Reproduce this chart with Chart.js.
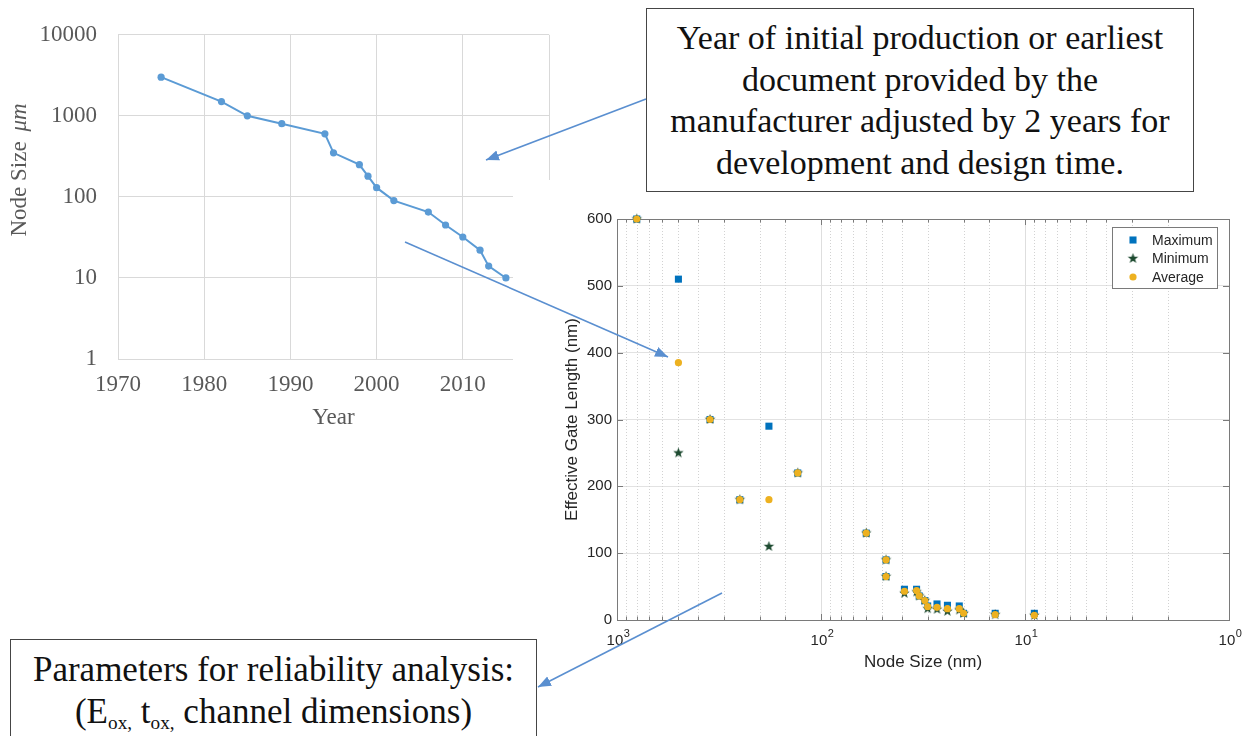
<!DOCTYPE html>
<html>
<head>
<meta charset="utf-8">
<script src="https://cdn.jsdelivr.net/npm/chart.js@4.4.1/dist/chart.umd.min.js"></script>
<style>
  html, body { margin: 0; padding: 0; background: #fff; }
  body { position: relative; width: 1247px; height: 736px; overflow: hidden; }
  #leftChart { position: absolute; left: 0; top: 0; }
  #rightChart { position: absolute; left: 513px; top: 180px; background: #fff; }
  .note {
    position: absolute; box-sizing: border-box; background: #fff;
    border: 1.5px solid #454545; color: #111; text-align: center; white-space: nowrap;
    font-family: "Liberation Serif", "Times New Roman", serif;
  }
  #noteYear { left: 646px; top: 8px; width: 548px; height: 184px; font-size: 34px; line-height: 41.7px; padding-top: 8px; }
  #noteParams { left: 10px; top: 639px; width: 527px; height: 130px; font-size: 35px; line-height: 42px; padding-top: 9px; }
  #noteParams sub { font-size: 55%; vertical-align: -0.3em; line-height: 0; }
  #arrows { position: absolute; left: 0; top: 0; }
</style>
</head>
<body>
<canvas id="leftChart" width="600" height="440"></canvas>
<canvas id="rightChart" width="734" height="500"></canvas>

<div class="note" id="noteYear">Year of initial production or earliest<br>document provided by the<br>manufacturer adjusted by 2 years for<br>development and design time.</div>
<div class="note" id="noteParams">Parameters for reliability analysis:<br>(E<sub>ox,</sub> t<sub>ox,</sub> channel dimensions)</div>

<svg id="arrows" width="1247" height="736">
  <defs>
    <marker id="head" viewBox="0 0 10 10" refX="10" refY="5" markerWidth="13" markerHeight="13"
            markerUnits="userSpaceOnUse" orient="auto">
      <path d="M0,1 L10,5 L0,9 z" fill="#5a8fd0"/>
    </marker>
  </defs>
  <line x1="646" y1="99" x2="486" y2="160" stroke="#5a8fd0" stroke-width="1.6" marker-end="url(#head)"/>
  <line x1="405" y1="242" x2="668" y2="357" stroke="#5a8fd0" stroke-width="1.6" marker-end="url(#head)"/>
  <line x1="722" y1="593" x2="538" y2="687" stroke="#5a8fd0" stroke-width="1.6" marker-end="url(#head)"/>
</svg>

<script>
// ---- Node size by year ----
const years      = [1975, 1982, 1985, 1989, 1994, 1995, 1998, 1999, 2000, 2002, 2006, 2008, 2010, 2012, 2013, 2015];
const nodeSizeUm = [3000, 1500, 1000,  800,  600,  350,  250,  180,  130,   90,   65,   45,   32,   22,   14,   10];
const yearTicks  = [1970, 1980, 1990, 2000, 2010, 2020];
const sizeTicks  = [1, 10, 100, 1000, 10000];

// ---- Effective gate length by node size ----
const nodeSizeNm = [800, 500, 350, 250, 180, 130,  60, 48, 48, 39, 34, 33, 31, 30, 27, 24, 21, 20, 14,  9];
const gateMax    = [600, 510, 300, 180, 290, 220, 130, 90, 65, 46, 46, 36, 29, 21, 24, 22, 21, 10, 10, 10];
const gateMin    = [600, 250, 300, 180, 110, 220, 130, 90, 65, 40, 42, 36, 29, 17, 16, 13, 15, 10,  8,  7];
const gateAvg    = [600, 385, 300, 180, 180, 220, 130, 90, 65, 43, 44, 36, 29, 20, 19, 17, 17, 10,  8,  7];
const decadeExponents = [3, 2, 1, 0];
const legendLabels = ['Maximum', 'Minimum', 'Average'];

const SERIF = '"Liberation Serif", "Times New Roman", serif';
const SANS  = '"Liberation Sans", Arial, "DejaVu Sans", sans-serif';

// ---------------- left chart ----------------
const leftTitles = {
  id: 'leftTitles',
  afterDraw(chart) {
    const { ctx, chartArea: a } = chart;
    ctx.save();
    ctx.fillStyle = '#595959';
    ctx.textBaseline = 'middle';
    ctx.textAlign = 'center';
    ctx.font = '23px ' + SERIF;
    ctx.fillText('Year', (a.left + a.right) / 2, 418);

    // rotated y title: "Node Size" upright + "μm" italic
    const partA = 'Node Size ', partB = 'μm';
    ctx.font = '23px ' + SERIF;
    const wA = ctx.measureText(partA).width + 4;
    ctx.font = 'italic 23px ' + SERIF;
    const wB = ctx.measureText(partB).width;
    ctx.translate(20, 170);
    ctx.rotate(-Math.PI / 2);
    ctx.textAlign = 'left';
    const start = -(wA + wB) / 2;
    ctx.font = '23px ' + SERIF;
    ctx.fillText(partA, start, 0);
    ctx.font = 'italic 23px ' + SERIF;
    ctx.fillText(partB, start + wA, 0);
    ctx.restore();
  }
};

new Chart(document.getElementById('leftChart'), {
  type: 'line',
  data: {
    datasets: [{
      data: years.map((y, i) => ({ x: y, y: nodeSizeUm[i] })),
      borderColor: '#5b9bd5',
      backgroundColor: '#5b9bd5',
      borderWidth: 2,
      pointRadius: 3.6,
      pointHoverRadius: 3.6,
      pointBorderWidth: 0,
      tension: 0,
      clip: false
    }]
  },
  options: {
    responsive: false,
    animation: false,
    events: [],
    layout: { padding: { top: 21, right: 51, left: 0, bottom: 0 } },
    plugins: { legend: { display: false }, tooltip: { enabled: false } },
    scales: {
      x: {
        type: 'linear', min: yearTicks[0], max: yearTicks[yearTicks.length - 1],
        afterBuildTicks: s => { s.ticks = yearTicks.map(v => ({ value: v })); },
        ticks: { color: '#595959', font: { family: SERIF, size: 23 }, padding: 12, maxRotation: 0, callback: v => String(v) },
        grid: { color: '#d9d9d9', lineWidth: 1, drawTicks: false },
        border: { color: '#d9d9d9' },
        afterFit: s => { s.height = 81; }
      },
      y: {
        type: 'logarithmic', min: sizeTicks[0], max: sizeTicks[sizeTicks.length - 1],
        afterBuildTicks: s => { s.ticks = sizeTicks.map(v => ({ value: v })); },
        ticks: { color: '#595959', font: { family: SERIF, size: 23 }, padding: 21, callback: v => String(v) },
        grid: { color: '#d9d9d9', lineWidth: 1, drawTicks: false },
        border: { color: '#d9d9d9' },
        afterFit: s => { s.width = 118; }
      }
    }
  },
  plugins: [leftTitles]
});

// ---------------- right chart ----------------
function pentagram(outerR, color) {
  const size = Math.ceil(outerR * 2 + 2);
  const c = document.createElement('canvas');
  c.width = size; c.height = size;
  const g = c.getContext('2d');
  const cx = size / 2, cy = size / 2, innerR = outerR * 0.42;
  g.beginPath();
  for (let k = 0; k < 10; k++) {
    const r = k % 2 ? innerR : outerR;
    const ang = -Math.PI / 2 + k * Math.PI / 5;
    g.lineTo(cx + r * Math.cos(ang), cy + r * Math.sin(ang));
  }
  g.closePath();
  g.fillStyle = color;
  g.fill();
  return c;
}
const starMark = pentagram(5.5, '#1d4a30');
const pts = vals => nodeSizeNm.map((n, i) => ({ x: n, y: vals[i] }));
const isDecade = v => Math.abs(Math.log10(v) - Math.round(Math.log10(v))) < 1e-9;

const frame = {
  id: 'frame',
  beforeDatasetsDraw(chart) {
    const { ctx, chartArea: a, scales: { x, y } } = chart;
    ctx.save();
    // vertical grid: decades solid, intermediate values dotted
    x.ticks.forEach(t => {
      const px = Math.round(x.getPixelForValue(t.value)) + 0.5;
      if (px <= a.left + 1 || px >= a.right - 1) return;
      ctx.beginPath();
      if (isDecade(t.value)) { ctx.setLineDash([]); ctx.strokeStyle = '#dedede'; }
      else { ctx.setLineDash([1, 2]); ctx.strokeStyle = '#d2d2d2'; }
      ctx.lineWidth = 1;
      ctx.moveTo(px, a.top); ctx.lineTo(px, a.bottom);
      ctx.stroke();
    });
    ctx.setLineDash([]);
    // axes box
    ctx.strokeStyle = '#7a7a7a';
    ctx.lineWidth = 1;
    ctx.strokeRect(Math.round(a.left) + 0.5, Math.round(a.top) + 0.5,
                   Math.round(a.right - a.left), Math.round(a.bottom - a.top));
    // inward tick marks on all four sides
    ctx.beginPath();
    x.ticks.forEach(t => {
      const px = Math.round(x.getPixelForValue(t.value)) + 0.5;
      const len = isDecade(t.value) ? 6 : 3.5;
      ctx.moveTo(px, a.bottom); ctx.lineTo(px, a.bottom - len);
      ctx.moveTo(px, a.top); ctx.lineTo(px, a.top + len);
    });
    y.ticks.forEach(t => {
      const py = Math.round(y.getPixelForValue(t.value)) + 0.5;
      ctx.moveTo(a.left, py); ctx.lineTo(a.left + 6, py);
      ctx.moveTo(a.right, py); ctx.lineTo(a.right - 6, py);
    });
    ctx.stroke();
    ctx.restore();
  },
  afterDraw(chart) {
    const { ctx, chartArea: a, scales: { x } } = chart;
    ctx.save();
    ctx.fillStyle = '#262626';
    ctx.textBaseline = 'alphabetic';
    // decade labels on the x axis, written as 10 with a raised exponent
    decadeExponents.forEach(e => {
      const px = x.getPixelForValue(Math.pow(10, e));
      ctx.font = '15px ' + SANS;
      const wBase = ctx.measureText('10').width;
      ctx.font = '11px ' + SANS;
      const wExp = ctx.measureText(String(e)).width;
      const left = px - (wBase + wExp) / 2 + 1;
      ctx.textAlign = 'left';
      ctx.font = '15px ' + SANS;
      ctx.fillText('10', left, a.bottom + 25);
      ctx.font = '11px ' + SANS;
      ctx.fillText(String(e), left + wBase + 0.5, a.bottom + 17);
    });

    // axis titles
    ctx.font = '17px ' + SANS;
    ctx.textAlign = 'center';
    ctx.textBaseline = 'middle';
    ctx.fillText('Node Size (nm)', (a.left + a.right) / 2, 482);
    ctx.translate(59, (a.top + a.bottom) / 2);
    ctx.rotate(-Math.PI / 2);
    ctx.fillText('Effective Gate Length (nm)', 0, 0);
    ctx.restore();

    // legend box in the upper-right corner
    const ds = chart.data.datasets;
    const byLabel = l => ds.find(d => d.label === l);
    const bw = 105, bh = 61;
    const bx = Math.round(a.right - 12 - bw), by = Math.round(a.top + 8);
    ctx.save();
    ctx.fillStyle = '#fff';
    ctx.fillRect(bx, by, bw, bh);
    ctx.strokeStyle = '#7a7a7a';
    ctx.lineWidth = 1;
    ctx.strokeRect(bx + 0.5, by + 0.5, bw, bh);
    ctx.font = '14px ' + SANS;
    ctx.textBaseline = 'middle';
    ctx.textAlign = 'left';
    legendLabels.forEach((lab, i) => {
      const d = byLabel(lab);
      const cy = by + 13 + i * 18.5;
      const mx = bx + 21;
      ctx.fillStyle = d.backgroundColor;
      ctx.strokeStyle = d.borderColor;
      Chart.helpers.drawPoint(ctx, {
        pointStyle: d.pointStyle, radius: d.pointRadius, rotation: 0, borderWidth: 0
      }, mx, cy);
      ctx.fillStyle = '#262626';
      ctx.fillText(lab, bx + 40, cy + 1);
    });
    ctx.restore();
  }
};

new Chart(document.getElementById('rightChart'), {
  type: 'scatter',
  data: {
    datasets: [
      { label: 'Average', data: pts(gateAvg), pointStyle: 'circle', pointRadius: 3.6, pointHoverRadius: 3.6,
        backgroundColor: '#edb120', borderColor: '#edb120', pointBorderWidth: 0, order: 0, clip: false },
      { label: 'Minimum', data: pts(gateMin), pointStyle: starMark, pointRadius: 5.5, pointHoverRadius: 5.5,
        backgroundColor: '#1d4a30', borderColor: '#1d4a30', pointBorderWidth: 0, order: 1, clip: false },
      { label: 'Maximum', data: pts(gateMax), pointStyle: 'rect', pointRadius: 5, pointHoverRadius: 5,
        backgroundColor: '#0072bd', borderColor: '#0072bd', pointBorderWidth: 0, order: 2, clip: false }
    ]
  },
  options: {
    responsive: false,
    animation: false,
    events: [],
    layout: { padding: { top: 39, right: 18, left: 0, bottom: 0 } },
    plugins: { legend: { display: false }, tooltip: { enabled: false } },
    scales: {
      x: {
        type: 'logarithmic', reverse: true, min: 1, max: 1000,
        ticks: { display: false },
        grid: { display: false },
        border: { display: false },
        afterFit: s => { s.height = 60; s.paddingLeft = 0; s.paddingRight = 0; }
      },
      y: {
        min: 0, max: 600,
        ticks: { stepSize: 100, padding: 5, color: '#262626', font: { family: SANS, size: 15 } },
        grid: { color: '#e2e2e2', drawTicks: false },
        border: { display: false },
        afterFit: s => { s.width = 104; }
      }
    }
  },
  plugins: [frame]
});
</script>
</body>
</html>
